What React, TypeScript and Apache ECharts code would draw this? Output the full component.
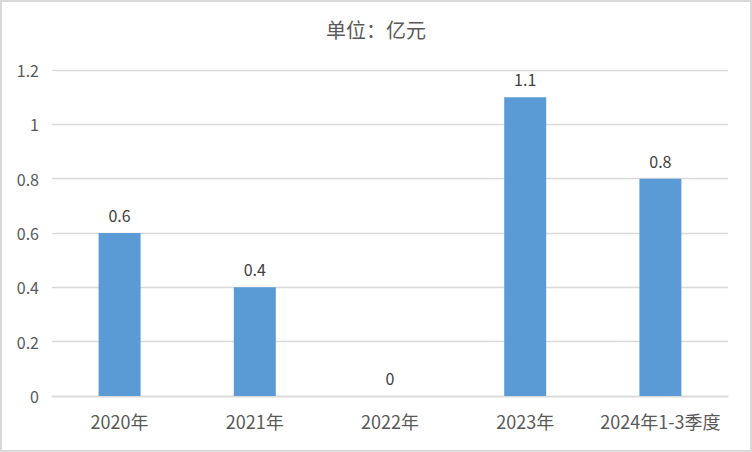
import React, { useEffect, useRef } from "react";
import * as echarts from "echarts";

const categories = ["2020年", "2021年", "2022年", "2023年", "2024年1-3季度"];
const values = [0.6, 0.4, 0, 1.1, 0.8];
const titleText = "单位：亿元";

const FONT = "'Noto Sans CJK SC', 'Microsoft YaHei', sans-serif";

export default function App() {
  const ref = useRef<HTMLDivElement>(null);
  useEffect(() => {
    if (!ref.current) return;
    const chart = echarts.init(ref.current, undefined, { renderer: "svg" });
    chart.setOption({
      animation: false,
      backgroundColor: "#ffffff",
      textStyle: { fontFamily: FONT },
      title: {
        text: titleText,
        left: "center",
        top: 14,
        textStyle: { fontSize: 20, fontWeight: "normal", color: "#595959", fontFamily: FONT },
      },
      graphic: [
        {
          type: "rect",
          shape: { x: 1, y: 1, width: 750, height: 450 },
          style: { fill: "none", stroke: "#d9d9d9", lineWidth: 2 },
          silent: true,
        },
      ],
      grid: { left: 52, right: 24, top: 70, bottom: 56 },
      xAxis: {
        type: "category",
        data: categories,
        axisTick: { show: false },
        axisLine: { show: true, lineStyle: { color: "#d9d9d9", width: 1.3 } },
        axisLabel: { color: "#595959", fontSize: 18, margin: 16, interval: 0, fontFamily: FONT },
      },
      yAxis: {
        type: "value",
        min: 0,
        max: 1.2,
        interval: 0.2,
        axisLine: { show: false },
        axisTick: { show: false },
        splitLine: { lineStyle: { color: "#d9d9d9", width: 1.3 } },
        axisLabel: {
          color: "#595959",
          fontSize: 16,
          margin: 13,
          fontFamily: FONT,
          formatter: (v: number) => String(Math.round(v * 10) / 10),
        },
      },
      series: [
        {
          type: "bar",
          data: values,
          barWidth: 42,
          itemStyle: { color: "#5b9bd5" },
          label: {
            show: true,
            position: "top",
            distance: 10,
            color: "#404040",
            fontSize: 16,
            fontFamily: FONT,
          },
        },
      ],
    });
    return () => chart.dispose();
  }, []);
  return (
    <div
      ref={ref}
      style={{ position: "fixed", left: 0, top: 0, width: 752, height: 452 }}
    />
  );
}
